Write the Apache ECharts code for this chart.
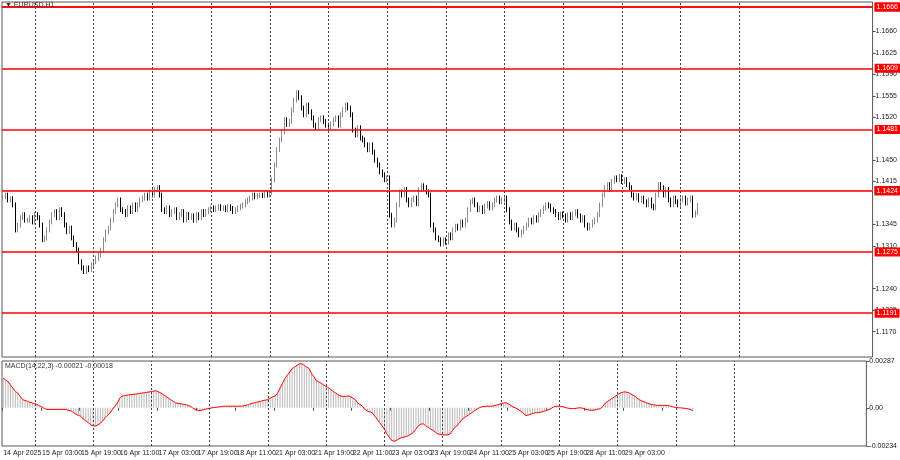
<!DOCTYPE html>
<html><head><meta charset="utf-8">
<script src="https://cdn.jsdelivr.net/npm/echarts@6/dist/echarts.min.js"></script>
<style>html,body{margin:0;padding:0;background:#fff}#c{width:900px;height:460px}</style>
</head><body><div id="c"></div>
<script>
// Hourly closes EURUSD H1, first bar 14 Apr 2025 11:00
const closes = [
1.1390,1.1393,1.1385,1.1387,1.1377,1.1336,1.1344,1.1356,1.1361,1.1352,
1.1352,1.1356,1.1349,1.1361,1.1356,1.1344,1.1320,1.1323,1.1336,1.1349,
1.1361,1.1366,1.1356,1.1369,1.1361,1.1344,1.1333,1.1339,1.1323,1.1312,
1.1303,1.1284,1.1274,1.1268,1.1274,1.1271,1.1279,1.1284,1.1290,1.1295,
1.1303,1.1320,1.1333,1.1339,1.1352,1.1366,1.1377,1.1385,1.1369,1.1366,
1.1361,1.1372,1.1366,1.1377,1.1369,1.1377,1.1385,1.1388,1.1393,1.1388,
1.1398,1.1393,1.1402,1.1405,1.1393,1.1369,1.1366,1.1372,1.1361,1.1366,
1.1369,1.1356,1.1361,1.1366,1.1352,1.1361,1.1356,1.1359,1.1352,1.1361,
1.1356,1.1366,1.1361,1.1366,1.1369,1.1372,1.1369,1.1372,1.1374,1.1371,
1.1372,1.1369,1.1374,1.1371,1.1366,1.1369,1.1372,1.1375,1.1377,1.1382,
1.1385,1.1388,1.1393,1.1390,1.1392,1.1393,1.1392,1.1395,1.1393,1.1397,
1.1418,1.1442,1.1467,1.1483,1.1496,1.1516,1.1508,1.1513,1.1532,1.1548,
1.1560,1.1552,1.1535,1.1524,1.1540,1.1529,1.1519,1.1507,1.1503,1.1516,
1.1519,1.1513,1.1507,1.1503,1.1509,1.1516,1.1519,1.1507,1.1524,1.1532,
1.1540,1.1535,1.1524,1.1499,1.1491,1.1503,1.1486,1.1483,1.1475,1.1467,
1.1475,1.1463,1.1450,1.1442,1.1431,1.1426,1.1418,1.1421,1.1360,1.1344,
1.1352,1.1377,1.1398,1.1393,1.1402,1.1385,1.1377,1.1385,1.1388,1.1379,
1.1402,1.1408,1.1405,1.1398,1.1393,1.1344,1.1336,1.1323,1.1320,1.1313,
1.1320,1.1316,1.1328,1.1323,1.1336,1.1342,1.1339,1.1349,1.1344,1.1352,
1.1369,1.1382,1.1385,1.1377,1.1369,1.1372,1.1366,1.1375,1.1379,1.1372,
1.1377,1.1385,1.1388,1.1382,1.1385,1.1388,1.1369,1.1349,1.1339,1.1344,
1.1336,1.1328,1.1333,1.1339,1.1344,1.1352,1.1349,1.1356,1.1352,1.1361,
1.1366,1.1372,1.1377,1.1375,1.1369,1.1366,1.1361,1.1356,1.1362,1.1359,
1.1352,1.1361,1.1356,1.1362,1.1366,1.1359,1.1352,1.1356,1.1344,1.1339,
1.1344,1.1349,1.1352,1.1361,1.1377,1.1393,1.1405,1.1410,1.1402,1.1415,
1.1421,1.1418,1.1423,1.1415,1.1418,1.1410,1.1405,1.1393,1.1388,1.1392,
1.1385,1.1388,1.1382,1.1377,1.1385,1.1375,1.1372,1.1393,1.1410,1.1405,
1.1393,1.1402,1.1385,1.1377,1.1388,1.1382,1.1377,1.1385,1.1388,1.1380,
1.1385,1.1388,1.1360,1.1364,1.1376];
const macd = [
.00181,.0017,.0016,.0014,.0012,.0010,.0009,.0007,.0005,.00045,
.0004,.00033,.0003,.00025,.0002,.00012,.00005,-.00005,-.0001,-.0001,
-.0001,-.0001,-.0001,-.0001,-.0001,-.0001,-.00012,-.00015,-.0002,-.0003,
-.0004,-.00046,-.00052,-.0007,-.0008,-.0009,-.00104,-.0011,-.00112,-.00105,
-.00094,-.0008,-.0006,-.00045,-.00031,-.0001,.0001,.0003,.0006,.00072,
.00075,.00078,.0008,.00082,.00083,.00085,.00088,.0009,.00092,.00094,
.00097,.001,.00103,.00104,.00098,.0009,.0008,.0007,.0006,.0005,
.0004,.0003,.00027,.00025,.00022,.0002,.00015,.0001,0,-.0001,
-.00015,-.00017,-.00014,-.0001,-.00006,-.00003,0,.00002,.00004,.00006,
.00008,.0001,.0001,.0001,.0001,.0001,.0001,.0001,.0001,.00012,
.00015,.0002,.00025,.0003,.00033,.00036,.0004,.00045,.00047,.0005,
.0006,.00068,.00073,.0009,.0012,.0015,.0018,.002,.0022,.0024,
.0025,.0026,.0027,.0027,.0026,.0025,.0024,.0021,.0019,.00166,
.0016,.0015,.0014,.0013,.00125,.0011,.001,.0009,.0008,.00073,
.0007,.0007,.00073,.0007,.0006,.0005,.0003,.0002,.0001,-.0001,
-.0002,-.00025,-.00031,-.0005,-.0007,-.0009,-.0011,-.0013,-.0016,-.0018,
-.002,-.00205,-.002,-.0019,-.00183,-.0018,-.00175,-.0017,-.0016,-.0015,
-.0013,-.0011,-.001,-.00098,-.0011,-.0012,-.0013,-.00138,-.0015,-.0016,
-.00163,-.00166,-.00166,-.00166,-.0016,-.0014,-.0012,-.0011,-.0009,-.0007,
-.0006,-.0005,-.0004,-.0003,-.00018,-.0001,0,.00006,.00008,.0001,
.0001,.0001,.00012,.00016,.0002,.00025,.0003,.00031,.00025,.00015,
.00005,0,-.0001,-.0002,-.0003,-.00046,-.00046,-.0004,-.00035,-.00031,
-.0003,-.00028,-.00024,-.0002,-.00015,-.0001,0,.00008,.0001,.0001,
.00008,.00005,0,-.00003,-.00005,-.00005,-.00003,0,0,-.00005,
-.0001,-.00013,-.00015,-.00015,-.00012,-.00008,-.00005,.0001,.0003,.0004,
.0005,.0006,.0007,.0008,.0009,.00095,.00098,.00095,.0009,.0008,
.00073,.0006,.0005,.00042,.00037,.0003,.00025,.0002,.00018,.00015,
.00015,.00015,.00015,.00015,.00013,.0001,.00005,.00002,0,0,
-.00002,-.00004,-.00006,-.0001,-.00017];
const levels = [1.1700,1.1666,1.1609,1.1481,1.1424,1.1275,1.1191,1.1132];
const currentPrice = 1.1376;
const priceTicks = [1.1660,1.1625,1.1590,1.1555,1.1520,1.1450,1.1415,1.1345,1.1310,1.1240,1.1205,1.1170];
const tickBars = [0,16,32,48,64,80,96,112,128,144,160,176,192,208,224,240,256,272];
const tickLabels = ['14 Apr 2025','15 Apr 03:00','15 Apr 19:00','16 Apr 11:00','17 Apr 03:00','17 Apr 19:00','18 Apr 11:00','21 Apr 03:00','21 Apr 19:00','22 Apr 11:00','23 Apr 03:00','23 Apr 19:00','24 Apr 11:00','25 Apr 03:00','25 Apr 19:00','28 Apr 11:00','29 Apr 03:00','29 Apr 19:00'];
const dayBars = [13,37,61,85,109,133,157,181,205,229,253,277,301];
const totalSlots = 356;

const cats = Array.from({length: totalSlots}, (_, i) => i);
const ohlc = closes.map((c, i) => {
  const o = i === 0 ? c : closes[i-1];
  return [o, c, Math.min(o,c) - 0.0004, Math.max(o,c) + 0.0004];
});
const tickMap = new Map(tickBars.map((b,i)=>[b,tickLabels[i]]));
const F = 'Liberation Sans';
const vLines = dayBars.map(b => ({xAxis: b}));
const chart = echarts.init(document.getElementById('c'));
chart.setOption({
  animation: false,
  textStyle: {fontFamily: F},
  grid: [
    {left: 2, right: 25, top: 2, height: 355, show: true, borderColor: '#555', borderWidth: 1},
    {left: 2, right: 25, top: 361, height: 85, show: true, borderColor: '#555', borderWidth: 1}
  ],
  xAxis: [
    {type: 'category', data: cats, gridIndex: 0, axisLabel: {show: false}, axisTick: {show: false}, axisLine: {show: false}, splitLine: {show: false}},
    {type: 'category', data: cats, gridIndex: 1, axisLine: {show: false},
     axisTick: {show: true, interval: (i) => tickMap.has(i), length: 3, lineStyle: {color: '#555'}},
     axisLabel: {interval: (i) => tickMap.has(i), formatter: (v) => tickMap.get(Number(v)) || '', fontSize: 7, color: '#222', align: 'left', margin: 4, showMaxLabel: false}}
  ],
  yAxis: [
    {type: 'value', gridIndex: 0, position: 'right', min: 1.11285, max: 1.17082, splitLine: {show: false},
     axisLine: {show: false}, axisTick: {show: true, customValues: priceTicks, length: 3, lineStyle: {color: '#555'}},
     axisLabel: {customValues: priceTicks, formatter: v => v.toFixed(4), fontSize: 7, color: '#222', margin: 3}},
    {type: 'value', gridIndex: 1, position: 'right', min: -0.00234, max: 0.00287, splitLine: {show: false},
     axisLine: {show: false}, axisTick: {show: true, customValues: [0.00287, 0, -0.00234], length: 3, lineStyle: {color: '#555'}},
     axisLabel: {customValues: [0.00287, 0, -0.00234], formatter: v => v === 0 ? '0.00' : v.toFixed(5), fontSize: 7, color: '#222', margin: 3}}
  ],
  graphic: [
    {type: 'text', left: 5, top: 2, z: 100, style: {text: '▼ EURUSD,H1', fontSize: 7, fill: '#333', fontFamily: F}},
    {type: 'text', left: 5, top: 363, z: 100, style: {text: 'MACD(14,22,3) -0.00021 -0.00018', fontSize: 7, fill: '#333', fontFamily: F}}
  ],
  series: [
    {type: 'line', xAxisIndex: 0, yAxisIndex: 0, data: [[0, currentPrice]], showSymbol: false, symbol: 'none', lineStyle: {width: 0}, silent: true,
     markLine: {silent: true, symbol: 'none', animation: false, data: [
       ...vLines.map(v => ({...v, lineStyle: {color: '#444', type: [2,2], width: 1}, label: {show: false}})),
       {yAxis: currentPrice, lineStyle: {color: '#c8c8c8', type: 'solid', width: 1},
        label: {show: true, position: 'end', formatter: currentPrice.toFixed(4), backgroundColor: '#000', color: '#fff', fontSize: 7, padding: [1,2], distance: 2}},
       ...levels.map(l => ({yAxis: l, lineStyle: {color: '#ff0000', type: 'solid', width: 1.5},
         label: {show: true, position: 'end', formatter: l.toFixed(4), backgroundColor: '#ff0000', color: '#fff', fontSize: 7, padding: [1,2], distance: 2}}))
     ]}},
    {type: 'candlestick', xAxisIndex: 0, yAxisIndex: 0, data: ohlc, barMaxWidth: 2, z: 3,
     itemStyle: {color: '#8a8a8a', color0: '#000', borderColor: '#8a8a8a', borderColor0: '#000', borderWidth: 1}},
    {type: 'bar', xAxisIndex: 1, yAxisIndex: 1, data: macd, barWidth: 1, itemStyle: {color: '#b8b8b8'},
     markLine: {silent: true, symbol: 'none', data: vLines, lineStyle: {color: '#444', type: [2,2], width: 1}, label: {show: false}}},
    {type: 'line', xAxisIndex: 1, yAxisIndex: 1, data: macd, showSymbol: false, lineStyle: {color: '#ff0000', width: 1}}
  ]
});
</script></body></html>
